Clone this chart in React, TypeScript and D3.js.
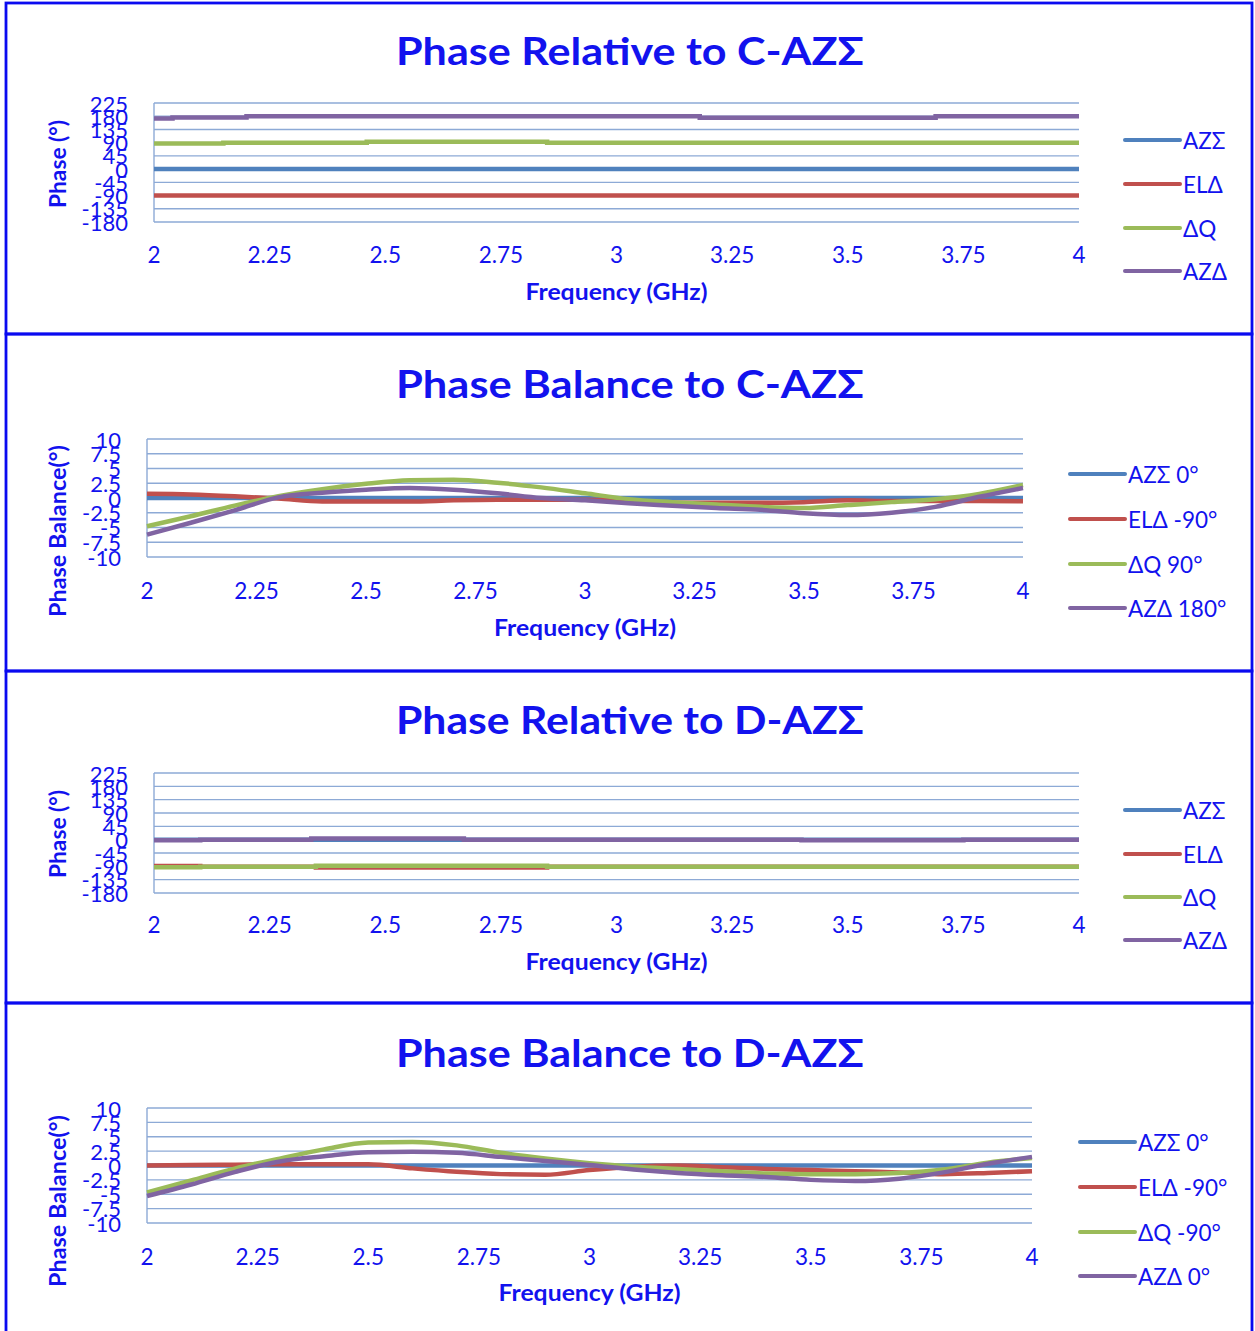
import React from 'react';
import * as d3 from 'd3';

const width = 1255;
const height = 1331;
const textBlue = '#1212EE';
const gridColor = '#8DAAD6';
const fontFamily = 'Lato, "Open Sans", sans-serif';

const freqTicks = [2, 2.25, 2.5, 2.75, 3, 3.25, 3.5, 3.75, 4];
const phaseTicks = [225, 180, 135, 90, 45, 0, -45, -90, -135, -180];
const balanceTicks = [10, 7.5, 5, 2.5, 0, -2.5, -5, -7.5, -10];

const seriesColors = ['#4F81BD', '#C0504D', '#9BBB59', '#8064A2'];

const relNames = ['AZΣ', 'ELΔ', 'ΔQ', 'AZΔ'];
const cBalNames = ['AZΣ 0°', 'ELΔ -90°', 'ΔQ 90°', 'AZΔ 180°'];
const dBalNames = ['AZΣ 0°', 'ELΔ -90°', 'ΔQ -90°', 'AZΔ 0°'];

// Phase Relative to C-AZΣ (stepped traces: breakpoints + values)
const cRelAzSigmaFreq = [2, 4];
const cRelAzSigma = [0, 0];
const cRelElDeltaFreq = [2, 4];
const cRelElDelta = [-90, -90];
const cRelDeltaQFreq = [2, 2.15, 2.46, 2.85, 4];
const cRelDeltaQ = [87, 90, 93, 90, 90];
const cRelAzDeltaFreq = [2, 2.04, 2.2, 3.18, 3.69, 4];
const cRelAzDelta = [172, 176, 180, 175, 180, 180];

// Phase Relative to D-AZΣ
const dRelAzSigmaFreq = [2, 4];
const dRelAzSigma = [0, 0];
const dRelElDeltaFreq = [2, 2.1, 2.35, 2.85, 4];
const dRelElDelta = [-89, -91, -94, -91, -91];
const dRelDeltaQFreq = [2, 2.1, 2.35, 2.85, 4];
const dRelDeltaQ = [-93, -91, -88, -91, -91];
const dRelAzDeltaFreq = [2, 2.1, 2.34, 2.67, 3.4, 3.75, 4];
const dRelAzDelta = [-2, 0, 4, 0, -2, 0, 0];

// Phase balance traces, sampled every 0.1 GHz
const balanceFreq = [2.0, 2.1, 2.2, 2.3, 2.4, 2.5, 2.6, 2.7, 2.8, 2.9, 3.0,
  3.1, 3.2, 3.3, 3.4, 3.5, 3.6, 3.7, 3.8, 3.9, 4.0];

const cBalAzSigma = [0, 0, 0, 0, 0, 0, 0, 0, 0, 0, 0, 0, 0, 0, 0, 0, 0, 0, 0, 0, 0];
const cBalElDelta = [0.7, 0.6, 0.3, -0.1, -0.6, -0.6, -0.6, -0.4, -0.3, -0.3, -0.3,
  -0.5, -0.8, -0.8, -0.8, -0.7, -0.4, -0.5, -0.5, -0.5, -0.55];
const cBalDeltaQ = [-4.8, -3.1, -1.3, 0.3, 1.5, 2.4, 3.0, 3.1, 2.6, 1.8, 0.8,
  -0.2, -0.7, -1.1, -1.5, -1.7, -1.2, -0.7, -0.2, 0.7, 2.2];
const cBalAzDelta = [-6.2, -4.2, -2.1, 0.1, 0.9, 1.4, 1.7, 1.4, 0.8, 0.0, -0.4,
  -0.9, -1.3, -1.7, -2.0, -2.6, -2.9, -2.5, -1.5, 0.2, 1.7];

const dBalAzSigma = [0, 0, 0, 0, 0, 0, 0, 0, 0, 0, 0, 0, 0, 0, 0, 0, 0, 0, 0, 0, 0];
const dBalElDelta = [0, 0.1, 0.15, 0.2, 0.2, 0.2, -0.5, -1.1, -1.5, -1.6, -0.8,
  -0.2, 0, -0.3, -0.6, -0.8, -1.0, -1.2, -1.5, -1.3, -1.0];
const dBalDeltaQ = [-4.7, -2.6, -0.5, 1.2, 2.8, 4.0, 4.1, 3.5, 2.2, 1.2, 0.4,
  -0.2, -0.6, -1.0, -1.4, -1.5, -1.5, -1.3, -0.7, 0.5, 1.3];
const dBalAzDelta = [-5.3, -3.3, -1.1, 0.7, 1.6, 2.3, 2.4, 2.2, 1.5, 0.8, 0.1,
  -0.7, -1.3, -1.7, -2.0, -2.5, -2.7, -2.3, -1.2, 0.3, 1.5];

const zipSeries = (freq, values) => freq.map((f, i) => ({ f, v: values[i] }));

const panels = [
  {
    box: [3, 334], title: 'Phase Relative to C-AZΣ', titleY: 50,
    plot: { left: 154, right: 1079, top: 103, bottom: 222 },
    yDomain: [-180, 225], yTicks: phaseTicks, yTickX: 128,
    yTitle: 'Phase (°)', yTitleLen: 88, yTitleY: 164, xLabelY: 254, xTitleY: 291,
    legend: { x1: 1125, x2: 1180, tx: 1183, ys: [140, 184, 228, 271] },
    names: relNames, curve: d3.curveStepAfter,
    series: [
      zipSeries(cRelAzSigmaFreq, cRelAzSigma),
      zipSeries(cRelElDeltaFreq, cRelElDelta),
      zipSeries(cRelDeltaQFreq, cRelDeltaQ),
      zipSeries(cRelAzDeltaFreq, cRelAzDelta),
    ],
  },
  {
    box: [334, 671], title: 'Phase Balance to C-AZΣ', titleY: 383,
    plot: { left: 147, right: 1023, top: 439, bottom: 557 },
    yDomain: [-10, 10], yTicks: balanceTicks, yTickX: 121,
    yTitle: 'Phase Balance(°)', yTitleLen: 172, yTitleY: 531, xLabelY: 590, xTitleY: 627,
    legend: { x1: 1070, x2: 1125, tx: 1128, ys: [474, 519, 564, 608] },
    names: cBalNames, curve: d3.curveMonotoneX,
    series: [
      zipSeries(balanceFreq, cBalAzSigma),
      zipSeries(balanceFreq, cBalElDelta),
      zipSeries(balanceFreq, cBalDeltaQ),
      zipSeries(balanceFreq, cBalAzDelta),
    ],
  },
  {
    box: [671, 1003], title: 'Phase Relative to D-AZΣ', titleY: 719,
    plot: { left: 154, right: 1079, top: 773, bottom: 893 },
    yDomain: [-180, 225], yTicks: phaseTicks, yTickX: 128,
    yTitle: 'Phase (°)', yTitleLen: 88, yTitleY: 834, xLabelY: 924, xTitleY: 961,
    legend: { x1: 1125, x2: 1180, tx: 1183, ys: [810, 854, 897, 940] },
    names: relNames, curve: d3.curveStepAfter,
    series: [
      zipSeries(dRelAzSigmaFreq, dRelAzSigma),
      zipSeries(dRelElDeltaFreq, dRelElDelta),
      zipSeries(dRelDeltaQFreq, dRelDeltaQ),
      zipSeries(dRelAzDeltaFreq, dRelAzDelta),
    ],
  },
  {
    box: [1003, 1334], title: 'Phase Balance to D-AZΣ', titleY: 1052,
    plot: { left: 147, right: 1032, top: 1108, bottom: 1223 },
    yDomain: [-10, 10], yTicks: balanceTicks, yTickX: 121,
    yTitle: 'Phase Balance(°)', yTitleLen: 172, yTitleY: 1201, xLabelY: 1256, xTitleY: 1292,
    legend: { x1: 1080, x2: 1135, tx: 1138, ys: [1142, 1187, 1232, 1276] },
    names: dBalNames, curve: d3.curveMonotoneX,
    series: [
      zipSeries(balanceFreq, dBalAzSigma),
      zipSeries(balanceFreq, dBalElDelta),
      zipSeries(balanceFreq, dBalDeltaQ),
      zipSeries(balanceFreq, dBalAzDelta),
    ],
  },
];

function Panel({ p }) {
  const { plot } = p;
  const xScale = d3.scaleLinear().domain([2, 4]).range([plot.left, plot.right]);
  const yScale = d3.scaleLinear().domain(p.yDomain).range([plot.bottom, plot.top]);
  const line = d3.line().x(d => xScale(d.f)).y(d => yScale(d.v)).curve(p.curve);

  return (
    <g>
      <rect x={6} y={p.box[0]} width={1246} height={p.box[1] - p.box[0]}
        fill="none" stroke="#0A0AF0" strokeWidth={2.8} />
      <text x={630} y={p.titleY} textAnchor="middle" dominantBaseline="central"
        fontSize={38} fontWeight="bold" fill={textBlue}
        textLength={468} lengthAdjust="spacingAndGlyphs">{p.title}</text>

      {p.yTicks.map(t => (
        <line key={t} x1={plot.left} x2={plot.right} y1={yScale(t)} y2={yScale(t)}
          stroke={gridColor} strokeWidth={1.4} />
      ))}
      <line x1={plot.left} x2={plot.left} y1={plot.top} y2={plot.bottom}
        stroke={gridColor} strokeWidth={1.4} />

      {p.yTicks.map(t => (
        <text key={t} x={p.yTickX} y={yScale(t)} textAnchor="end" dominantBaseline="central"
          fontSize={22} fill={textBlue}>{String(t)}</text>
      ))}
      {freqTicks.map(t => (
        <text key={t} x={xScale(t)} y={p.xLabelY} textAnchor="middle" dominantBaseline="central"
          fontSize={22.5} fill={textBlue}>{String(t)}</text>
      ))}

      <text x={(plot.left + plot.right) / 2} y={p.xTitleY} textAnchor="middle"
        dominantBaseline="central" fontSize={22} fontWeight="bold" fill={textBlue}
        textLength={182} lengthAdjust="spacingAndGlyphs">
        Frequency (GHz)
      </text>
      <text transform={`translate(57, ${p.yTitleY}) rotate(-90)`} textAnchor="middle"
        dominantBaseline="central" fontSize={22} fontWeight="bold" fill={textBlue}
        textLength={p.yTitleLen} lengthAdjust="spacingAndGlyphs">
        {p.yTitle}
      </text>

      {p.series.map((s, i) => (
        <path key={i} d={line(s)} fill="none" stroke={seriesColors[i]} strokeWidth={4.5} />
      ))}

      {p.names.map((name, i) => (
        <g key={name}>
          <line x1={p.legend.x1} x2={p.legend.x2} y1={p.legend.ys[i]} y2={p.legend.ys[i]}
            stroke={seriesColors[i]} strokeWidth={4} strokeLinecap="round" />
          <text x={p.legend.tx} y={p.legend.ys[i]} dominantBaseline="central"
            fontSize={22.5} fill={textBlue}>{name}</text>
        </g>
      ))}
    </g>
  );
}

export default function App() {
  return (
    <div style={{ position: 'absolute', left: 0, top: 0 }}>
      <svg width={width} height={height} style={{ display: 'block', fontFamily }}>
        <rect width={width} height={height} fill="#fff" />
        {panels.map((p, i) => <Panel key={i} p={p} />)}
      </svg>
    </div>
  );
}
